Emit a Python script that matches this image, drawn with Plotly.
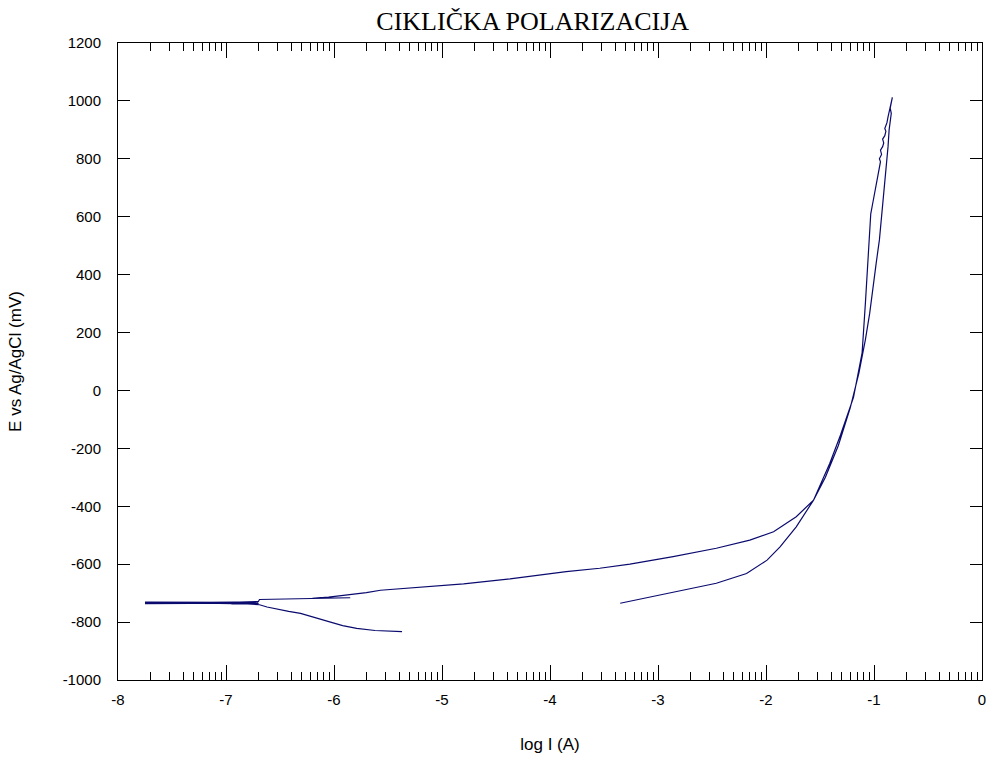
import numpy as np
import plotly.graph_objects as go

# Forward scan (cathodic start -> Ecorr noise -> anodic branch -> vertex)
fwd_logI = [-5.37, -5.50, -5.62, -5.79, -5.92, -6.04, -6.18, -6.31, -6.42, -6.53, -6.62, -6.69,
            -6.80, -7.20, -7.75, -7.10, -6.90, -7.75, -6.95, -7.75, -6.90, -7.75, -6.92, -6.72,
            -6.70, -6.95, -6.72, -6.95, -6.70, -6.69,
            -6.50, -6.30, -6.05, -5.85, -6.05, -6.20, -6.05, -5.95, -5.85, -5.70, -5.57, -5.35,
            -5.13, -4.80, -4.37, -4.10, -3.85, -3.54, -3.26, -2.86, -2.46, -2.15, -1.93, -1.72,
            -1.56, -1.41, -1.31, -1.19, -1.11, -1.08, -1.06, -1.04, -1.03, -1.01, -0.99, -0.98,
            -0.96, -0.95, -0.94, -0.95, -0.93, -0.94, -0.92, -0.91, -0.92, -0.90, -0.89, -0.90,
            -0.88, -0.87, -0.86, -0.85, -0.84, -0.83]
fwd_E = [-833, -832, -829, -822, -812, -799, -784, -770, -763, -756, -748, -740,
         -737, -735, -734, -733, -735, -736, -732, -731, -733, -734, -730, -730,
         -736, -737, -734, -732, -729, -722,
         -721, -719, -718, -716, -717, -718, -714, -710, -705, -698, -690, -684,
         -678, -668, -651, -638, -626, -614, -600, -574, -545, -517, -488, -436,
         -379, -252, -154, -24, 130, 300, 420, 554, 610, 650, 690, 715,
         745, 770, 790, 800, 815, 830, 842, 855, 868, 880, 895, 905,
         925, 945, 962, 985, 1000, 1012]

# Reverse scan (vertex -> back down to lower branch)
rev_logI = [-0.84, -0.85, -0.84, -0.86, -0.87, -0.89, -0.91, -0.93, -0.95, -0.98, -1.01,
            -1.04, -1.08, -1.14, -1.22, -1.33, -1.45, -1.56, -1.72, -1.87, -1.99, -2.18,
            -2.46, -2.92, -3.35]
rev_E = [995, 975, 957, 900, 842, 760, 669, 589, 520, 439, 350,
         266, 175, 60, -60, -190, -300, -379, -471, -540, -586, -632,
         -666, -701, -735]

x_all = fwd_logI + rev_logI
y_all = fwd_E + rev_E

title_text = "CIKLIČKA POLARIZACIJA"
x_title = "log I (A)"
y_title = "E vs Ag/AgCl (mV)"
x_ticks = [-8, -7, -6, -5, -4, -3, -2, -1, 0]
y_ticks = [-1000, -800, -600, -400, -200, 0, 200, 400, 600, 800, 1000, 1200]

minor_x = [d + np.log10(k) for d in range(-8, 0) for k in range(2, 10)]

fig = go.Figure()
fig.add_trace(go.Scatter(x=x_all, y=y_all, mode="lines",
                         line=dict(color="#0a0a6e", width=1.2), showlegend=False))

fig.update_layout(
    width=987, height=760,
    margin=dict(l=118, r=5, t=43, b=80),
    paper_bgcolor="white", plot_bgcolor="white",
    title=dict(text=title_text, x=0.48, xref="paper", xanchor="center",
               y=1 - 21 / 760, yref="container", yanchor="middle",
               font=dict(family="Liberation Serif, Times New Roman, serif", size=26, color="black")),
    font=dict(family="Liberation Sans, Arial, sans-serif", size=15, color="black"),
)
fig.update_xaxes(range=[-8, 0], tickvals=x_ticks, ticktext=[str(v) for v in x_ticks],
                 ticks="inside", ticklen=15, tickwidth=1, tickcolor="black",
                 showline=True, linecolor="black", linewidth=1, mirror="ticks",
                 showgrid=False, zeroline=False, ticklabelstandoff=6,
                 ticklabeloverflow="allow", automargin=False,
                 minor=dict(tickmode="array", tickvals=minor_x, ticks="inside",
                            ticklen=8, tickwidth=1, tickcolor="black", showgrid=False),
                 title=dict(text=x_title, font=dict(size=17), standoff=31))
fig.update_yaxes(range=[-1000, 1200], tickvals=y_ticks, ticktext=[str(v) for v in y_ticks],
                 ticks="inside", ticklen=12, tickwidth=1, tickcolor="black",
                 showline=True, linecolor="black", linewidth=1, mirror="ticks",
                 showgrid=False, zeroline=False, ticklabelstandoff=13,
                 ticklabeloverflow="allow", automargin=False,
                 title=dict(text=y_title, font=dict(size=17), standoff=36))

fig.write_html("out.html", config={"displayModeBar": False},
               post_script="document.body.style.margin='0px';document.body.style.overflow='hidden';")
